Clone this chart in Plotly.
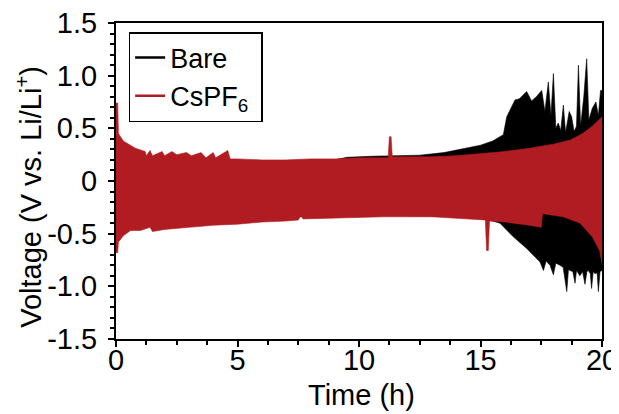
import plotly.graph_objects as go

# envelope of the voltage oscillation (time in h, voltage in V)
bare_up_t = [0.0, 0.8, 1.2, 5.0, 9.0, 9.5, 10.5, 11.5, 12.5, 13.5, 14.2, 15.0, 15.5, 15.94,
             16.08, 16.42, 16.6, 16.9, 17.1, 17.3, 17.52, 17.65, 17.79, 17.9, 18.0, 18.1, 18.2,
             18.3, 18.41, 18.5, 18.65, 18.75, 18.85, 18.95, 19.03, 19.12, 19.25, 19.37, 19.46,
             19.6, 19.75, 19.85, 19.94, 20.0]
bare_up_v = [0.30, 0.28, 0.21, 0.19, 0.20, 0.225, 0.235, 0.24, 0.245, 0.27, 0.30, 0.34, 0.38,
             0.44, 0.61, 0.77, 0.78, 0.85, 0.76, 0.80, 0.86, 0.66, 0.94, 0.62, 1.02, 0.50, 0.55,
             0.48, 0.72, 0.46, 0.66, 0.61, 0.47, 0.52, 1.10, 0.52, 0.80, 1.16, 0.58, 0.69, 0.75,
             0.62, 0.86, 0.86]

bare_lo_t = [0.0, 1.0, 5.0, 10.0, 14.5, 15.5, 15.8, 16.35, 16.9, 17.45, 17.59, 17.7, 17.86,
             18.0, 18.1, 18.27, 18.4, 18.55, 18.62, 18.68, 18.8, 18.89, 18.95, 19.09, 19.2,
             19.3, 19.38, 19.44, 19.52, 19.57, 19.64, 19.71, 19.8, 19.85, 19.92, 20.0]
bare_lo_v = [-0.45, -0.42, -0.36, -0.32, -0.34, -0.38, -0.40, -0.53, -0.64, -0.77, -0.85,
             -0.76, -0.80, -0.89, -0.78, -0.80, -0.82, -1.05, -0.84, -0.85, -0.86, -0.97, -0.85,
             -0.90, -0.86, -0.98, -0.86, -0.85, -0.88, -1.02, -0.86, -0.88, -0.87, -1.05, -0.86,
             -0.85]

cs_up_t = [0.0, 0.07, 0.1, 0.3, 0.8, 1.2, 1.25, 1.4, 1.5, 1.9, 2.0, 2.3, 2.5, 2.9, 3.1, 3.5,
           3.7, 4.0, 4.1, 4.6, 4.7, 5.0, 6.0, 7.0, 8.0, 9.0, 10.0, 11.2, 11.25, 11.32, 11.37,
           12.0, 13.0, 14.0, 15.0, 16.0, 17.0, 18.0, 18.7, 19.2, 19.6, 20.0]
cs_up_v = [0.74, 0.74, 0.45, 0.38, 0.31, 0.28, 0.24, 0.29, 0.24, 0.28, 0.24, 0.28, 0.25, 0.27,
           0.24, 0.27, 0.22, 0.27, 0.22, 0.29, 0.21, 0.21, 0.20, 0.20, 0.21, 0.21, 0.22, 0.22,
           0.42, 0.42, 0.23, 0.23, 0.23, 0.24, 0.26, 0.28, 0.31, 0.35, 0.39, 0.45, 0.52, 0.61]

cs_lo_t = [0.0, 0.07, 0.1, 0.3, 0.6, 1.0, 1.4, 1.5, 2.0, 3.0, 4.0, 5.0, 6.0, 7.0, 7.5, 7.6,
           7.7, 9.0, 11.0, 13.0, 14.5, 15.2, 15.25, 15.32, 15.37, 16.0, 17.0, 17.5, 17.55,
           18.4, 19.1, 19.6, 19.9, 20.0]
cs_lo_v = [-0.68, -0.68, -0.58, -0.52, -0.47, -0.47, -0.44, -0.48, -0.46, -0.44, -0.42, -0.41,
           -0.39, -0.38, -0.37, -0.33, -0.36, -0.35, -0.34, -0.34, -0.36, -0.37, -0.66, -0.66,
           -0.38, -0.39, -0.42, -0.44, -0.31, -0.34, -0.40, -0.53, -0.66, -0.78]

BLACK = "#000000"
RED = "#b01c21"
FONT = "Liberation Sans"


def band(t_up, v_up, t_lo, v_lo, color):
    # closed polygon: upper edge forward, lower edge back
    return go.Scatter(x=t_up + t_lo[::-1], y=v_up + v_lo[::-1],
                      mode="lines", fill="toself", fillcolor=color,
                      line=dict(color=color, width=0.6), showlegend=False,
                      hoverinfo="skip")


fig = go.Figure()
fig.add_trace(band(bare_up_t, bare_up_v, bare_lo_t, bare_lo_v, BLACK))
fig.add_trace(band(cs_up_t, cs_up_v, cs_lo_t, cs_lo_v, RED))

# legend entries drawn as short lines
fig.add_trace(go.Scatter(x=[None], y=[None], mode="lines", name="Bare",
                         line=dict(color=BLACK, width=2.5)))
fig.add_trace(go.Scatter(x=[None], y=[None], mode="lines", name="CsPF<sub>6</sub>&nbsp;",
                         line=dict(color=RED, width=2.5)))

ytick_vals = [-1.5, -1.0, -0.5, 0, 0.5, 1.0, 1.5]
ytick_text = ["-1.5", "-1.0", "-0.5", "0", "0.5", "1.0", "1.5"]

# page body keeps an 8px margin, so the figure is 8px smaller and margins shifted
fig.update_layout(
    width=611, height=406,
    margin=dict(l=108, r=17, t=15, b=75),
    paper_bgcolor="white", plot_bgcolor="white",
    font=dict(family=FONT, size=29, color="black"),
    legend=dict(x=0.026, y=0.9715, xanchor="left", yanchor="top",
                bordercolor="black", borderwidth=1.5, bgcolor="white",
                font=dict(size=27), tracegroupgap=0),
)
fig.update_xaxes(
    range=[0, 20], tickvals=[0, 5, 10, 15, 20], automargin=False,
    showline=True, linecolor="black", linewidth=2, mirror=True,
    ticks="outside", ticklen=6, tickwidth=1.5, tickcolor="black",
    minor=dict(dtick=1.25, ticks="outside", ticklen=4, tickwidth=1.5, tickcolor="black"),
    showgrid=False, zeroline=False, ticklabeloverflow="allow", ticklabelstandoff=-12,
)
fig.update_yaxes(
    range=[-1.5, 1.5], tickvals=ytick_vals, ticktext=ytick_text, automargin=False,
    showline=True, linecolor="black", linewidth=2, mirror=True,
    ticks="outside", ticklen=6, tickwidth=1.5, tickcolor="black",
    minor=dict(dtick=0.1, ticks="outside", ticklen=4, tickwidth=1.5, tickcolor="black"),
    showgrid=False, zeroline=False, ticklabeloverflow="allow", ticklabelstandoff=5,
)

# axis titles as annotations so they sit where the original puts them
fig.add_annotation(text="Time (h)", xref="paper", yref="paper", x=0.506, y=-0.177,
                   xanchor="center", yanchor="middle", showarrow=False,
                   font=dict(size=29))
fig.add_annotation(text="Voltage (V vs. Li/Li<sup>+</sup>)", xref="paper", yref="paper",
                   x=-0.179, y=0.45, xanchor="center", yanchor="middle",
                   textangle=-90, showarrow=False, font=dict(size=29))

fig.write_html("out.html")
